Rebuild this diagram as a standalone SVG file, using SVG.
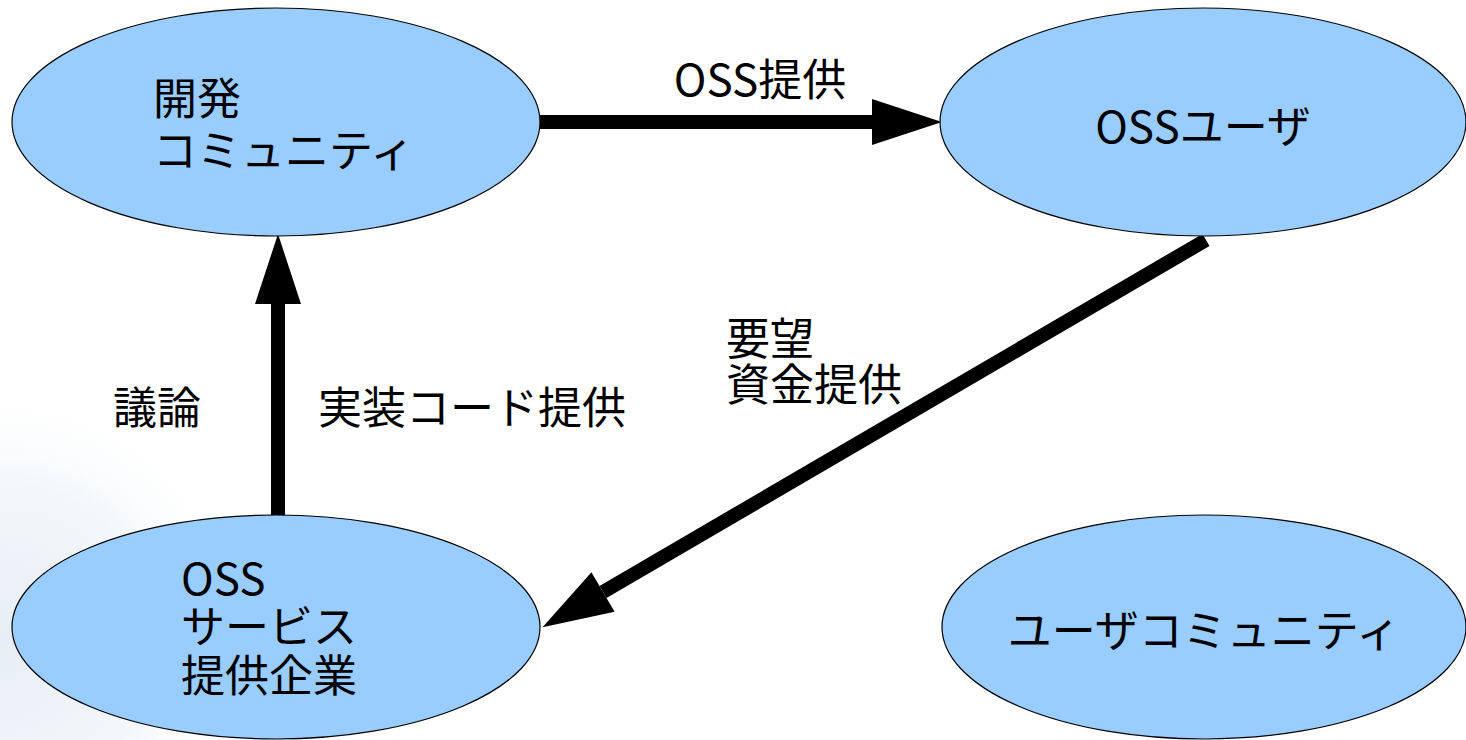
<svg xmlns="http://www.w3.org/2000/svg" width="1466" height="740" viewBox="0 0 1466 740">
<style>
.node{fill:#99ccff;stroke:#000;stroke-width:1.2}
.t{font-family:"Noto Sans CJK JP","Noto Sans",sans-serif;font-size:44px;fill:#000}
.edge{stroke:#000;stroke-width:14;fill:none}
</style>
<defs>
<marker id="ah" markerUnits="userSpaceOnUse" markerWidth="72" markerHeight="46" refX="0" refY="23" orient="auto" overflow="visible">
<path d="M0,0 L70,23 L0,46 Z" fill="#000"/>
</marker>
<radialGradient id="bg" cx="0" cy="640" r="260" gradientUnits="userSpaceOnUse">
<stop offset="0" stop-color="#e6eef5"/>
<stop offset="0.6" stop-color="#f3f7fa"/>
<stop offset="1" stop-color="#ffffff" stop-opacity="0"/>
</radialGradient>
</defs>
<rect width="1466" height="740" fill="#fff"/>
<rect width="1466" height="740" fill="url(#bg)"/>
<g id="connectors">
<line class="edge" x1="540" y1="122" x2="872" y2="122" marker-end="url(#ah)"/>
<line class="edge" x1="278" y1="516" x2="278" y2="304" marker-end="url(#ah)"/>
<line class="edge" x1="1206" y1="240" x2="603" y2="592" marker-end="url(#ah)"/>
<text class="t" x="760" y="96" text-anchor="middle">OSS提供</text>
<text class="t" x="113" y="424">議論</text>
<text class="t" x="318" y="424">実装コード提供</text>
<text class="t"><tspan x="726" y="355">要望</tspan><tspan x="726" y="401">資金提供</tspan></text>
</g>
<g id="n1">
<ellipse class="node" cx="276" cy="122" rx="264" ry="114"/>
<text class="t"><tspan x="153" y="115">開発</tspan><tspan x="153" y="167">コミュニティ</tspan></text>
</g>
<g id="n2">
<ellipse class="node" cx="1203" cy="122" rx="263" ry="114"/>
<text class="t" x="1203" y="143" text-anchor="middle">OSSユーザ</text>
</g>
<g id="n3">
<ellipse class="node" cx="276" cy="627" rx="264" ry="112"/>
<text class="t"><tspan x="181" y="595">OSS</tspan><tspan x="181" y="643">サービス</tspan><tspan x="181" y="692">提供企業</tspan></text>
</g>
<g id="n4">
<ellipse class="node" cx="1204" cy="627" rx="262" ry="112"/>
<text class="t" x="1204" y="647" text-anchor="middle">ユーザコミュニティ</text>
</g>
</svg>
